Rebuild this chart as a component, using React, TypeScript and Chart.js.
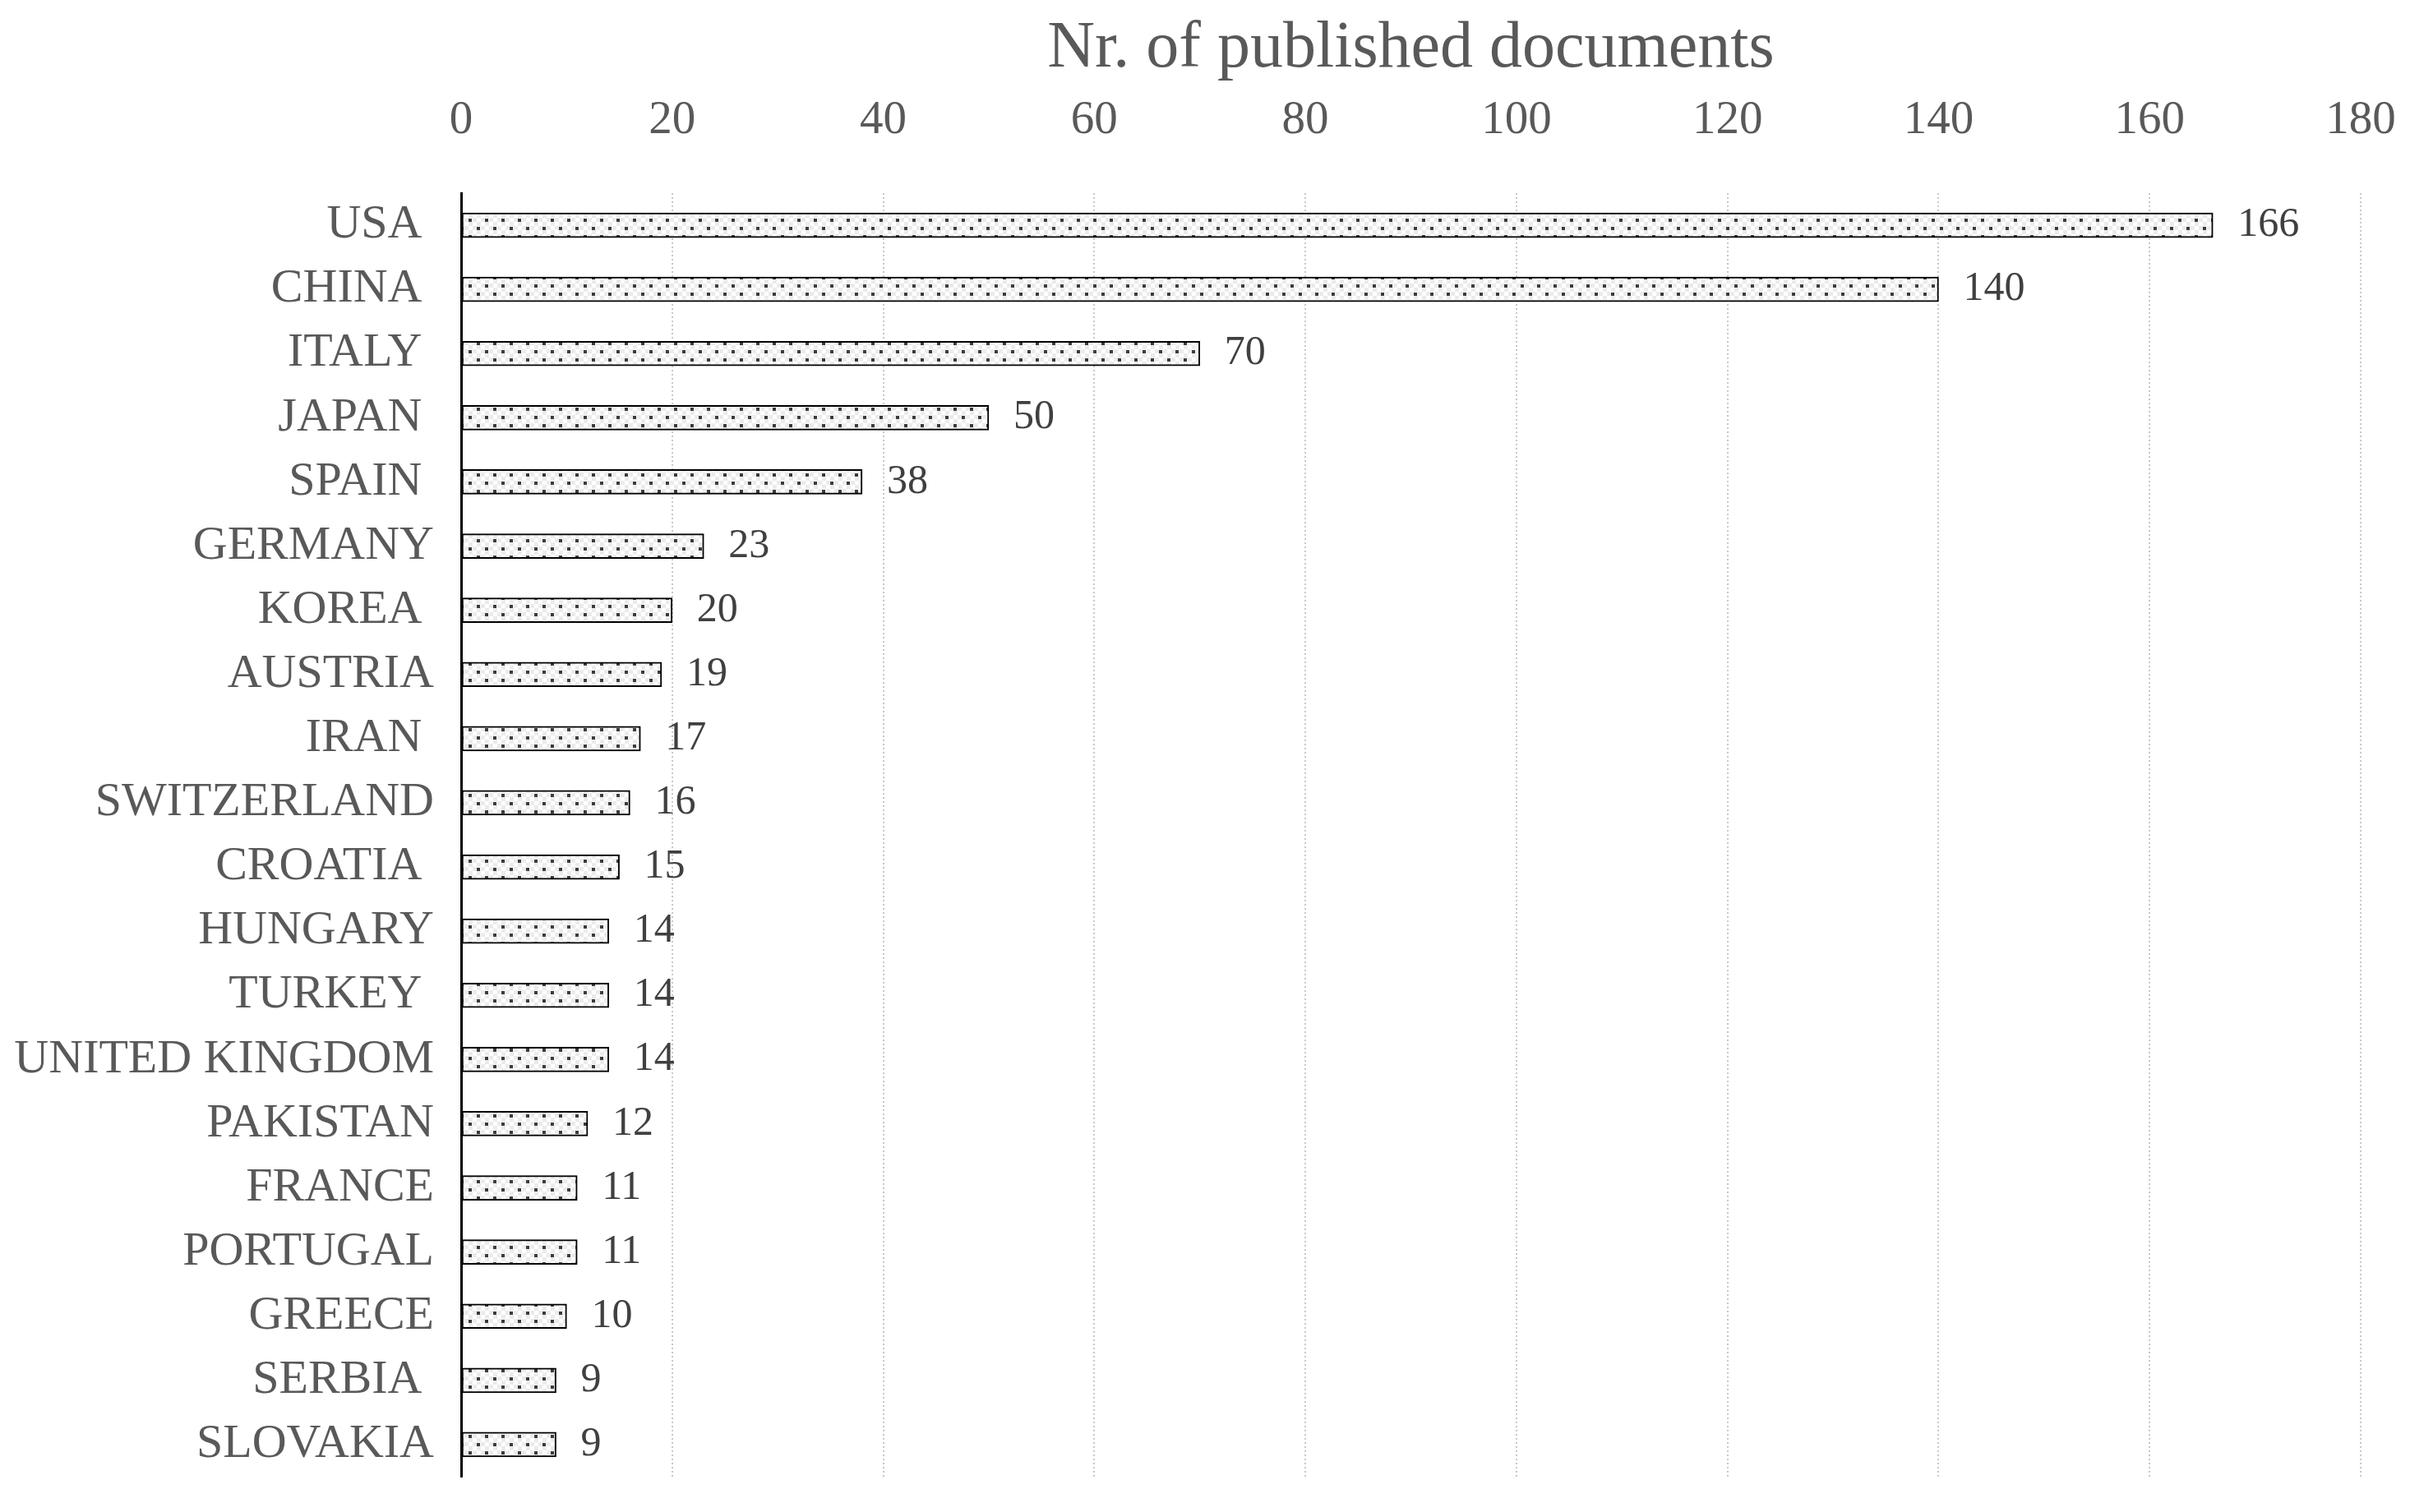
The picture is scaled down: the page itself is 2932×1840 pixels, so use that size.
import React, { useEffect, useRef } from "react";
import { Chart, registerables } from "chart.js";

Chart.register(...registerables);

// ---- Data ----
const countries = [
  "USA ",
  "CHINA ",
  "ITALY ",
  "JAPAN ",
  "SPAIN ",
  "GERMANY",
  "KOREA ",
  "AUSTRIA",
  "IRAN ",
  "SWITZERLAND",
  "CROATIA ",
  "HUNGARY",
  "TURKEY ",
  "UNITED KINGDOM",
  "PAKISTAN",
  "FRANCE",
  "PORTUGAL",
  "GREECE",
  "SERBIA ",
  "SLOVAKIA",
];
const documents = [166, 140, 70, 50, 38, 23, 20, 19, 17, 16, 15, 14, 14, 14, 12, 11, 11, 10, 9, 9];
const xTickValues = [0, 20, 40, 60, 80, 100, 120, 140, 160, 180];
const axisTitle = "Nr. of published documents";

const FONT = "'Liberation Serif', 'Times New Roman', serif";

function makeDotPattern(ctx: CanvasRenderingContext2D): CanvasPattern | string {
  const c = document.createElement("canvas");
  c.width = 20;
  c.height = 20;
  const g = c.getContext("2d");
  if (!g) return "#eeeeee";
  g.fillStyle = "#ffffff";
  g.fillRect(0, 0, 20, 20);
  for (let i = 0; i < 4; i++) {
    for (let j = 0; j < 4; j++) {
      if ((i + j) % 2 === 0) {
        g.fillStyle = "#ebebeb";
        g.fillRect(i * 5, j * 5, 5, 5);
      }
    }
  }
  g.fillStyle = "#3c3c3c";
  g.fillRect(10, 6, 4, 4);
  g.fillRect(0, 16, 4, 4);
  return ctx.createPattern(c, "repeat") || "#eeeeee";
}

const valueLabels = {
  id: "valueLabels",
  afterDatasetsDraw(chart: any) {
    const ctx = chart.ctx as CanvasRenderingContext2D;
    const meta = chart.getDatasetMeta(0);
    const data = chart.data.datasets[0].data as number[];
    ctx.save();
    ctx.font = `50px ${FONT}`;
    ctx.fillStyle = "#404040";
    ctx.textAlign = "left";
    ctx.textBaseline = "middle";
    meta.data.forEach((el: any, i: number) => {
      ctx.fillText(String(data[i]), el.x + 30, el.y);
    });
    ctx.restore();
  },
};

export default function App() {
  const canvasRef = useRef<HTMLCanvasElement | null>(null);

  useEffect(() => {
    const canvas = canvasRef.current;
    if (!canvas) return;
    const ctx = canvas.getContext("2d");
    if (!ctx) return;
    const pattern = makeDotPattern(ctx);

    const chart = new Chart(ctx, {
      type: "bar",
      data: {
        labels: countries,
        datasets: [
          {
            data: documents,
            backgroundColor: pattern as any,
            borderColor: "#000000",
            borderWidth: 2,
            borderSkipped: false,
            barThickness: 30,
          },
        ],
      },
      options: {
        indexAxis: "y",
        responsive: false,
        animation: false,
        devicePixelRatio: 1,
        layout: { padding: { left: 0, top: 0, right: 60, bottom: 43 } },
        plugins: {
          legend: { display: false },
          tooltip: { enabled: false },
        },
        scales: {
          x: {
            position: "top",
            min: xTickValues[0],
            max: xTickValues[xTickValues.length - 1],
            ticks: {
              stepSize: xTickValues[1] - xTickValues[0],
              padding: 54,
              color: "#595959",
              font: { family: FONT, size: 57 },
            },
            grid: { color: "#c8c8c8", lineWidth: 2, drawTicks: false },
            border: { display: false, dash: [2, 3] },
            title: {
              display: true,
              text: axisTitle,
              color: "#595959",
              font: { family: FONT, size: 80 },
              padding: { top: 12, bottom: 0 },
            },
            afterFit: (s: any) => {
              s.height = 235;
              s.paddingLeft = 0;
              s.paddingRight = 0;
              s.paddingTop = 0;
              s.paddingBottom = 0;
            },
          },
          y: {
            ticks: {
              padding: 33,
              color: "#595959",
              font: { family: FONT, size: 58 },
              autoSkip: false,
            },
            grid: { display: false, drawTicks: false },
            border: { display: true, color: "#000000", width: 3 },
            afterFit: (s: any) => {
              s.width = 561;
              s.paddingLeft = 0;
              s.paddingRight = 0;
              s.paddingTop = 0;
              s.paddingBottom = 0;
            },
          },
        },
      },
      plugins: [valueLabels],
    });

    return () => {
      chart.destroy();
    };
  }, []);

  return (
    <div style={{ position: "absolute", left: 0, top: 0, width: 2932, height: 1840, background: "#ffffff" }}>
      <canvas ref={canvasRef} width={2932} height={1840} style={{ display: "block", width: 2932, height: 1840 }} />
    </div>
  );
}
